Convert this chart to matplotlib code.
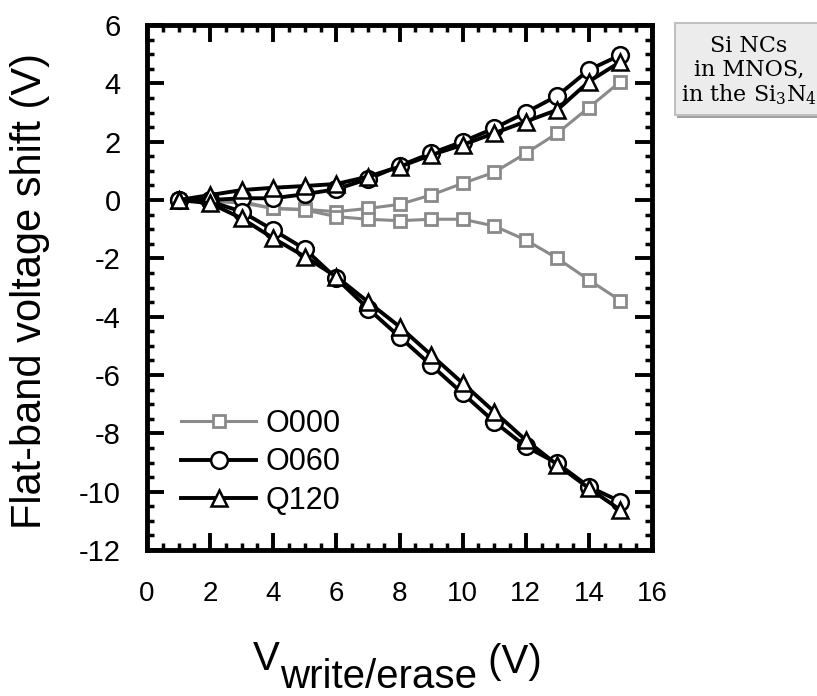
import matplotlib
matplotlib.use("Agg")
import matplotlib.pyplot as plt
from matplotlib.patches import Rectangle
from matplotlib.ticker import MultipleLocator

plt.rcParams['font.family'] = ['Liberation Sans', 'DejaVu Sans']
plt.rcParams['axes.unicode_minus'] = False
plt.rcParams['mathtext.fontset'] = 'dejavuserif'

# Write/erase pulse amplitude (V)
v_pulse = [1, 2, 3, 4, 5, 6, 7, 8, 9, 10, 11, 12, 13, 14, 15]

# Flat-band voltage shift (V): write branch (up) and erase branch (down)
o000_write = [0, -0.03, -0.05, -0.29, -0.32, -0.40, -0.29, -0.15, 0.17, 0.57, 0.95, 1.60, 2.29, 3.17, 4.06]
o000_erase = [0, -0.05, -0.10, -0.29, -0.34, -0.57, -0.66, -0.71, -0.66, -0.66, -0.89, -1.37, -2.00, -2.74, -3.45]
o060_write = [0, 0.00, 0.06, 0.06, 0.20, 0.37, 0.72, 1.17, 1.60, 2.00, 2.46, 3.00, 3.57, 4.46, 4.97]
o060_erase = [0, -0.05, -0.40, -1.03, -1.68, -2.69, -3.72, -4.69, -5.66, -6.63, -7.60, -8.45, -9.03, -9.83, -10.34]
q120_write = [0, 0.17, 0.34, 0.42, 0.48, 0.55, 0.80, 1.14, 1.54, 1.89, 2.29, 2.69, 3.09, 4.06, 4.74]
q120_erase = [0, -0.11, -0.63, -1.31, -1.94, -2.63, -3.49, -4.34, -5.31, -6.28, -7.26, -8.23, -9.08, -9.88, -10.63]

labels = ['O000', 'O060', 'Q120']
x_ticks = [0, 2, 4, 6, 8, 10, 12, 14, 16]
y_ticks = [6, 4, 2, 0, -2, -4, -6, -8, -10, -12]

W, H = 817, 696
fig = plt.figure(figsize=(W / 100, H / 100), dpi=100)
ax = fig.add_axes([147 / W, 1 - 550 / H, 505 / W, 525 / H])

gray = '#8a8a8a'
styles = [
    dict(color=gray, lw=2.2, marker='s', ms=8.5, mfc='white', mec=gray, mew=2.0),
    dict(color='black', lw=2.8, marker='o', ms=12, mfc='white', mec='black', mew=1.8),
    dict(color='black', lw=2.8, marker='^', ms=11.5, mfc='white', mec='black', mew=1.8),
]
series = [(o000_write, o000_erase), (o060_write, o060_erase), (q120_write, q120_erase)]

for (up, down), st, lab in zip(series, styles, labels):
    ax.plot(v_pulse, up, label=lab, **st)
    ax.plot(v_pulse, down, **st)

ax.set_xlim(0, 16)
ax.set_ylim(-12, 6)
ax.set_xticks(x_ticks)
ax.set_yticks(y_ticks)
ax.xaxis.set_minor_locator(MultipleLocator(0.5))
ax.yaxis.set_minor_locator(MultipleLocator(0.5))

for sp in ax.spines.values():
    sp.set_linewidth(3.5)
ax.tick_params(which='both', direction='in', top=True, right=True)
ax.tick_params(which='major', length=12, width=2.8)
ax.tick_params(which='minor', length=5, width=2.5)
ax.tick_params(axis='x', which='major', labelsize=20, pad=22)
ax.tick_params(axis='y', which='major', labelsize=21, pad=19)

leg = ax.legend(loc='lower left', bbox_to_anchor=(0.068, 0.065), frameon=False,
                fontsize=22, borderpad=0, borderaxespad=0, handlelength=2.45,
                handletextpad=0.3, labelspacing=0.28, numpoints=1)

fig.text(30 / W, 1 - 291 / H, 'Flat-band voltage shift (V)', rotation=90,
         ha='center', va='center', fontsize=30)

# x-axis label: V with a full-size, lowered "write/erase" subscript
fig.canvas.draw()
r = fig.canvas.get_renderer()
fs = 29
parts = [('V', 0), ('write/erase', -18), (' (V)', -3)]
objs = []
for s, dy in parts:
    t = fig.text(0, 0, s, fontsize=fs, ha='left', va='baseline')
    objs.append((t, dy))
widths = [t.get_window_extent(r).width for t, _ in objs]
total = sum(widths)
x = 397 - total / 2
base = H - 670
for (t, dy), w in zip(objs, widths):
    t.set_position((x / W, (base + dy) / H))
    x += w

# sample description box at the upper right
fig.patches.append(Rectangle((677 / W, 1 - 118 / H), 150 / W, 92 / H,
                             transform=fig.transFigure, facecolor='#a0a0a0',
                             edgecolor='none', zorder=0))
fig.patches.append(Rectangle((675 / W, 1 - 115 / H), 150 / W, 92 / H,
                             transform=fig.transFigure, facecolor='#ececec',
                             edgecolor='#c0c0c0', lw=1.5, zorder=1))
fig.text(749 / W, 1 - 71 / H, 'Si NCs\nin MNOS,\nin the Si$_3$N$_4$',
         ha='center', va='center', multialignment='center',
         fontsize=16, family='DejaVu Serif', linespacing=1.1, zorder=2)

fig.savefig('out.png', dpi=100)
